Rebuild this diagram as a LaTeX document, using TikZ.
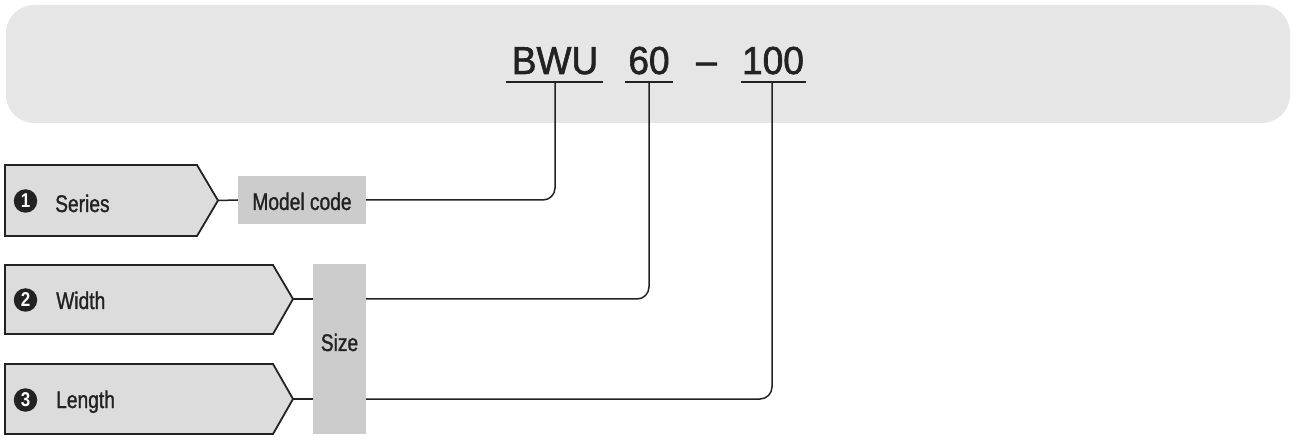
\documentclass[tikz,border=0pt]{standalone}
\usepackage{fontspec}
\setmainfont{Liberation Sans}
\newfontfamily\bigfont[FakeBold=1.6,FakeStretch=0.95]{Liberation Sans}
\newfontfamily\cond[FakeStretch=0.8,FakeBold=1.2]{Liberation Sans}
\newfontfamily\condb[FakeStretch=0.85]{Liberation Sans Bold}
\definecolor{banner}{HTML}{E6E6E6}
\definecolor{tagfill}{HTML}{DCDCDC}
\definecolor{boxfill}{HTML}{CCCCCC}
\definecolor{ink}{HTML}{222222}
\tikzset{
  tag/.style={draw=ink, line width=1.8pt, fill=tagfill, line join=miter},
  graybox/.style={fill=boxfill, draw=none},
  lbl/.style={inner sep=0pt, text=ink, font=\cond\fontsize{24}{24}\selectfont},
  big/.style={inner sep=0pt, text=ink, font=\bigfont\fontsize{39}{39}\selectfont},
  num/.style={circle, fill=ink, minimum size=23.5pt, inner sep=0pt, text=white, font=\condb\fontsize{20}{20}\selectfont},
  conn/.style={draw=ink, line width=1.5pt, rounded corners=12pt},
  uline/.style={draw=ink, line width=2pt}
}
\begin{document}
\begin{tikzpicture}[x=1pt,y=-1pt]
\useasboundingbox (0,0) rectangle (1291,438);
% banner
\fill[banner, rounded corners=28pt] (6,5) rectangle (1290,123);
% code text
\node[big, anchor=base] (bwu) at (555,74) {BWU};
\node[big, anchor=base] (sixty) at (649,74) {60};
\node[big, anchor=base] (dash) at (706.5,74) {–};
\node[big, anchor=base] (hund) at (773,74) {100};
\draw[uline] (506,82) -- (603,82);
\draw[uline] (625,82) -- (673,82);
\draw[uline] (741,82) -- (806,82);
\coordinate (u1) at (555,82);
\coordinate (u2) at (649,82);
\coordinate (u3) at (772,82);
% tags
\draw[tag] (5,165) -- (197,165) -- (218,200.5) -- (197,236) -- (5,236) -- cycle;
\draw[tag] (5,265) -- (273,265) -- (293,299) -- (273,334) -- (5,334) -- cycle;
\draw[tag] (5,364) -- (273,364) -- (293,399) -- (273,434) -- (5,434) -- cycle;
\coordinate (t1) at (218,200.5);
\coordinate (t2) at (293,299);
\coordinate (t3) at (293,399);
\node[num] (n1) at (25.5,201) {1};
\node[num] (n2) at (25.5,300) {2};
\node[num] (n3) at (25.5,400) {3};
\node[lbl, anchor=base west] (series) at (55,212) {Series};
\node[lbl, anchor=base west] (width) at (56,309) {Width};
\node[lbl, anchor=base west] (length) at (56,408) {Length};
% gray boxes
\node[graybox, minimum width=128pt, minimum height=48pt, inner sep=0pt] (mc) at (302,200) {};
\node[lbl, anchor=base] (mctext) at (302,210) {Model code};
\node[graybox, minimum width=53pt, minimum height=170pt, inner sep=0pt] (size) at (339.5,349) {};
\node[lbl, anchor=base] (sizetext) at (339.5,351) {Size};
% connectors
\draw[conn] (t1) -- (mc.west);
\draw[conn] (t2) -- (size.west |- t2);
\draw[conn] (t3) -- (size.west |- t3);
\draw[conn] (mc.east) -| (u1);
\draw[conn] (size.east |- t2) -| (u2);
\draw[conn] (size.east |- t3) -| (u3);
\end{tikzpicture}
\end{document}
